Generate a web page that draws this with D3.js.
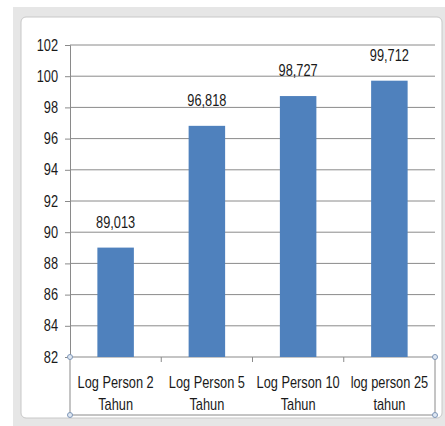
<!DOCTYPE html>
<meta charset="utf-8">
<script src="https://d3js.org/d3.v7.min.js"></script>
<style>
  body { margin: 0; background: #fff; }
  text { font-family: "Liberation Sans", Arial, sans-serif; fill: #1a1a1a; }
</style>
<div id="chart"></div>
<script>
  // data
  const categories = ["Log Person 2|Tahun", "Log Person 5|Tahun", "Log Person 10|Tahun", "log person 25|tahun"];
  const values = [89.013, 96.818, 98.727, 99.712];
  const valueLabels = ["89,013", "96,818", "98,727", "99,712"];
  const yTicks = [82, 84, 86, 88, 90, 92, 94, 96, 98, 100, 102];

  const W = 445, H = 426;
  const plot = { left: 70, right: 435, top: 45, bottom: 357 };
  const squeeze = 0.8; // narrow the font to look like Calibri
  const fs = "16px";

  const svg = d3.select("#chart").append("svg")
    .attr("width", W).attr("height", H);

  // window-like frame around the chart
  svg.append("rect").attr("x", 13).attr("y", 7).attr("width", W - 13).attr("height", H - 7)
    .attr("fill", "#e6e6e6");
  svg.append("rect").attr("x", 21).attr("y", 17).attr("width", W - 24).attr("height", 401)
    .attr("rx", 5).attr("fill", "#fff").attr("stroke", "#c8c8c8");

  const x = d3.scaleBand()
    .domain(categories)
    .range([plot.left, plot.right])
    .paddingInner(0.6)
    .paddingOuter(0.3);

  const y = d3.scaleLinear()
    .domain([82, 102])
    .range([plot.bottom, plot.top]);

  // gridlines
  svg.append("g")
    .selectAll("line")
    .data(yTicks.slice(1))
    .enter().append("line")
    .attr("x1", plot.left).attr("x2", plot.right)
    .attr("y1", d => y(d)).attr("y2", d => y(d))
    .attr("stroke", "#8a8a8a").attr("stroke-width", 1);

  // y axis
  const yAxis = svg.append("g")
    .attr("transform", "translate(" + plot.left + ",0)")
    .call(d3.axisLeft(y).tickValues(yTicks).tickSize(5).tickPadding(10));
  yAxis.select(".domain").attr("stroke", "#8a8a8a");
  yAxis.selectAll(".tick line").attr("stroke", "#8a8a8a");
  yAxis.selectAll(".tick text")
    .attr("transform", "scale(" + squeeze + ",1)")
    .style("font-size", fs).attr("fill", "#1a1a1a");

  // category box under the plot
  const bandStep = (plot.right - plot.left) / categories.length;
  svg.append("rect")
    .attr("x", plot.left).attr("y", plot.bottom)
    .attr("width", plot.right - plot.left).attr("height", 58)
    .attr("fill", "none").attr("stroke", "#8a8a8a");
  svg.append("g")
    .selectAll("line")
    .data(categories.slice(1))
    .enter().append("line")
    .attr("x1", (d, i) => plot.left + (i + 1) * bandStep)
    .attr("x2", (d, i) => plot.left + (i + 1) * bandStep)
    .attr("y1", plot.bottom).attr("y2", plot.bottom + 5)
    .attr("stroke", "#8a8a8a");

  // bars
  svg.append("g")
    .selectAll("rect")
    .data(values)
    .enter().append("rect")
    .attr("x", (d, i) => x(categories[i]))
    .attr("y", d => y(d))
    .attr("width", x.bandwidth())
    .attr("height", d => plot.bottom - y(d))
    .attr("fill", "#4f81bd");

  // value labels
  svg.append("g")
    .selectAll("text")
    .data(values)
    .enter().append("text")
    .attr("transform", (d, i) => "translate(" + (x(categories[i]) + x.bandwidth() / 2) + "," + (y(d) - 20) + ") scale(" + squeeze + ",1)")
    .attr("text-anchor", "middle")
    .style("font-size", fs)
    .text((d, i) => valueLabels[i]);

  // category labels (two lines)
  const cat = svg.append("g")
    .selectAll("text")
    .data(categories)
    .enter().append("text")
    .attr("transform", d => "translate(" + (plot.left + categories.indexOf(d) * bandStep + bandStep / 2) + "," + (plot.bottom + 31) + ") scale(" + squeeze + ",1)")
    .attr("text-anchor", "middle")
    .style("font-size", fs);
  cat.selectAll("tspan")
    .data(d => d.split("|"))
    .enter().append("tspan")
    .attr("x", 0)
    .attr("dy", (d, i) => i === 0 ? 0 : 22)
    .text(d => d);

  // selection handles
  const handles = [[plot.left, plot.bottom], [plot.right, plot.bottom], [plot.left, plot.bottom + 58], [plot.right, plot.bottom + 58]];
  svg.append("g")
    .selectAll("circle")
    .data(handles)
    .enter().append("circle")
    .attr("cx", d => d[0]).attr("cy", d => d[1]).attr("r", 2.5)
    .attr("fill", "#dfe8f3").attr("stroke", "#7f97b8");
</script>
